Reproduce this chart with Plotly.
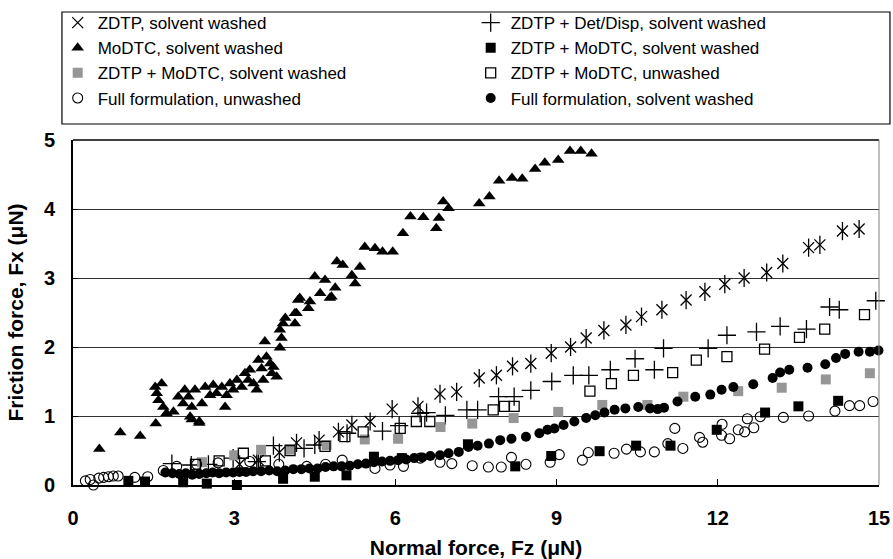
import plotly.graph_objects as go

#--------------------- Data
zdtp_x = [3.1, 3.45, 3.84, 4.16, 4.58, 4.94, 5.19, 5.53, 5.94, 6.42, 6.83, 7.14, 7.56, 7.88, 8.18,
          8.52, 8.9, 9.26, 9.55, 9.88, 10.29, 10.58, 10.96, 11.41, 11.76, 12.13, 12.49, 12.91,
          13.21, 13.69, 13.9, 14.32, 14.63]
zdtp_y = [0.3, 0.36, 0.47, 0.61, 0.65, 0.77, 0.87, 0.92, 1.1, 1.14, 1.32, 1.35, 1.55, 1.59, 1.72,
          1.76, 1.91, 2.0, 2.13, 2.24, 2.32, 2.44, 2.54, 2.68, 2.8, 2.91, 3.0, 3.08,
          3.21, 3.44, 3.48, 3.68, 3.71]

detdisp_x = [1.84, 2.2, 2.52, 2.98, 3.42, 3.73, 4.3, 4.5, 5.1, 5.76, 6.07, 6.46, 6.58, 6.93, 7.33,
             7.53, 7.92, 8.21, 8.52, 8.91, 9.31, 9.6, 10.0, 10.46, 10.82, 10.99, 11.82, 12.17,
             12.72, 13.16, 13.65, 14.08, 14.26, 14.94]
detdisp_y = [0.31, 0.29, 0.3, 0.39, 0.34, 0.57, 0.53, 0.58, 0.75, 0.78, 0.86, 1.04, 1.05, 1.01, 1.09,
             1.09, 1.28, 1.28, 1.37, 1.5, 1.59, 1.59, 1.67, 1.83, 1.67, 1.98, 1.98, 2.17,
             2.22, 2.3, 2.26, 2.58, 2.54, 2.67]

modtc_x = [0.49, 0.88, 1.25, 1.53, 1.54, 1.56, 1.59, 1.65, 1.68, 1.74, 1.87, 1.96, 2.05, 2.08, 2.15,
           2.18, 2.21, 2.21, 2.27, 2.35, 2.35, 2.4, 2.46, 2.55, 2.61, 2.67, 2.77, 2.83, 2.86, 2.92,
           2.98, 3.05, 3.14, 3.2, 3.26, 3.29, 3.36, 3.42, 3.45, 3.51, 3.54, 3.57, 3.6, 3.67, 3.7,
           3.73, 3.79, 3.85, 3.85, 3.88, 3.91, 3.95, 4.13, 4.13, 4.16, 4.19, 4.22, 4.38, 4.41, 4.5,
           4.6, 4.69, 4.78, 4.81, 4.88, 4.91, 5.02, 5.19, 5.25, 5.34, 5.43, 5.62, 5.76, 5.95, 6.14,
           6.28, 6.52, 6.76, 6.81, 6.89, 6.99, 7.56, 7.75, 7.93, 8.17, 8.36, 8.6, 8.78, 9.03, 9.25,
           9.45, 9.65]
modtc_y = [0.52, 0.76, 0.71, 1.42, 0.89, 1.33, 1.23, 1.47, 1.13, 1.04, 1.06, 1.28, 1.18, 1.38, 1.28,
           0.99, 1.13, 0.95, 1.38, 0.92, 0.9, 1.18, 1.42, 1.3, 1.45, 1.33, 1.42, 1.13, 1.3, 1.47,
           1.38, 1.52, 1.42, 1.62, 1.52, 1.67, 1.47, 1.38, 1.81, 1.69, 1.52, 2.08, 1.86, 1.76, 1.62,
           1.71, 1.57, 2.25, 1.99, 2.13, 2.34, 2.42, 2.49, 2.34, 2.49, 2.68, 2.71, 2.56, 2.66, 3.02,
           2.78, 2.97, 2.71, 2.73, 2.86, 3.24, 3.19, 3.04, 2.92, 3.16, 3.45, 3.43, 3.38, 3.38, 3.65,
           3.89, 3.88, 3.72, 3.87, 4.11, 4.01, 4.08, 4.18, 4.41, 4.45, 4.44, 4.58, 4.67, 4.71, 4.84,
           4.84, 4.8]

zm_black_x = [1.03, 1.34, 2.05, 2.49, 3.05, 3.91, 4.5, 5.09, 5.6, 6.12, 7.35, 8.23, 8.9, 9.8,
              10.48, 11.12, 11.98, 12.88, 13.5, 14.24]
zm_black_y = [0.06, 0.05, 0.04, 0.02, 0.0, 0.09, 0.12, 0.14, 0.41, 0.39, 0.59, 0.27, 0.42, 0.49,
              0.57, 0.57, 0.8, 1.05, 1.14, 1.22]

zm_grey_x = [2.4, 3.0, 3.5, 4.04, 4.72, 5.43, 6.05, 6.84, 7.43, 8.2, 9.03, 9.85, 10.69, 11.36,
             12.38, 13.19, 14.01, 14.83]
zm_grey_y = [0.33, 0.43, 0.51, 0.52, 0.58, 0.66, 0.67, 0.84, 0.89, 0.97, 1.06, 1.16, 1.16, 1.28,
             1.36, 1.41, 1.53, 1.62]

zm_unw_x = [2.28, 2.72, 3.17, 3.58, 4.04, 4.69, 5.06, 5.4, 6.09, 6.39, 6.64, 7.82, 8.03, 8.21,
            9.62, 10.02, 10.43, 11.16, 11.6, 12.17, 12.87, 13.52, 13.99, 14.73]
zm_unw_y = [0.3, 0.35, 0.46, 0.35, 0.5, 0.56, 0.7, 0.77, 0.82, 0.92, 0.92, 1.09, 1.14, 1.14,
            1.36, 1.47, 1.59, 1.63, 1.81, 1.86, 1.97, 2.14, 2.26, 2.47]

full_unw_x = [0.23, 0.32, 0.38, 0.48, 0.57, 0.66, 0.75, 0.84, 1.15, 1.39, 1.68, 1.93, 2.3, 2.7,
              3.29, 3.83, 4.35, 4.7, 5.01, 5.62, 5.9, 6.15, 6.46, 6.83, 7.05, 7.43, 7.73, 7.97,
              8.16, 8.43, 8.88, 9.05, 9.48, 9.59, 10.07, 10.3, 10.56, 10.82, 11.07, 11.2, 11.35,
              11.66, 11.72, 12.08, 12.07, 12.22, 12.38, 12.5, 12.55, 12.67, 12.79, 13.22, 13.69,
              14.18, 14.45, 14.64, 14.89]
full_unw_y = [0.06, 0.08, 0.0, 0.1, 0.11, 0.12, 0.13, 0.13, 0.11, 0.12, 0.21, 0.27, 0.3, 0.32,
              0.34, 0.3, 0.27, 0.3, 0.36, 0.24, 0.29, 0.27, 0.39, 0.33, 0.31, 0.28, 0.26, 0.26,
              0.4, 0.3, 0.33, 0.44, 0.36, 0.47, 0.46, 0.52, 0.48, 0.48, 0.6, 0.82, 0.53,
              0.69, 0.62, 0.88, 0.72, 0.67, 0.8, 0.77, 0.96, 0.83, 0.99, 0.98, 1.0,
              1.07, 1.15, 1.15, 1.21]

full_sw_x = [1.72, 1.85, 1.98, 2.1, 2.22, 2.35, 2.48, 2.6, 2.72, 2.85, 2.98, 3.1, 3.22, 3.35, 3.5,
             3.65, 3.8, 3.95, 4.1, 4.25, 4.4, 4.55, 4.7, 4.85, 5.0, 5.15, 5.3, 5.45, 5.6, 5.75,
             5.9, 6.05, 6.2, 6.35, 6.5, 6.65, 6.83, 6.99, 7.18, 7.36, 7.53, 7.74, 7.95, 8.16, 8.43,
             8.68, 8.83, 8.96, 9.13, 9.33, 9.55, 9.72, 9.89, 10.08, 10.28, 10.52, 10.74, 10.88,
             11.0, 11.25, 11.58, 11.86, 12.07, 12.29, 12.66, 13.02, 13.16, 13.33, 13.67, 14.0,
             14.2, 14.37, 14.62, 14.83, 14.99]
full_sw_y = [0.18, 0.17, 0.16, 0.17, 0.15, 0.16, 0.17, 0.18, 0.17, 0.18, 0.18, 0.19, 0.19, 0.2, 0.2,
             0.21, 0.2, 0.21, 0.23, 0.23, 0.24, 0.24, 0.26, 0.27, 0.27, 0.28, 0.3, 0.31, 0.33, 0.34,
             0.35, 0.36, 0.37, 0.39, 0.4, 0.42, 0.43, 0.46, 0.48, 0.55, 0.57, 0.6, 0.65, 0.67, 0.7,
             0.75, 0.8, 0.82, 0.87, 0.92, 0.97, 1.01, 1.05, 1.09, 1.11, 1.13, 1.11, 1.1,
             1.12, 1.21, 1.28, 1.31, 1.38, 1.42, 1.46, 1.55, 1.63, 1.67, 1.7, 1.75,
             1.84, 1.9, 1.93, 1.93, 1.95]

FONT = "Arial, Liberation Sans, sans-serif"

#--------------------- Figure
fig = go.Figure()

def add_series(x, y, name, symbol, size, color="black", line_w=0, show=True, group=None):
    fig.add_trace(go.Scatter(
        x=x, y=y, mode="markers", name=name, showlegend=show,
        legendgroup=group or name, cliponaxis=False,
        marker=dict(symbol=symbol, size=size, color=color,
                    line=dict(color=color if line_w else "rgba(0,0,0,0)", width=line_w)),
    ))

# legend order follows the two-column layout of the original (row by row)
add_series(zdtp_x, zdtp_y, "ZDTP, solvent washed", "x-thin-open", 11, line_w=1.3, group="zdtp")
add_series(zdtp_x, zdtp_y, "ZDTP", "line-ns-open", 13, line_w=1.3, show=False, group="zdtp")
add_series(detdisp_x, detdisp_y, "ZDTP + Det/Disp, solvent washed", "cross-thin-open", 13, line_w=1.3)
add_series(modtc_x, modtc_y, "MoDTC, solvent washed", "triangle-up", 11)
add_series(zm_black_x, zm_black_y, "ZDTP + MoDTC, solvent washed", "square", 10)
add_series(zm_grey_x, zm_grey_y, "ZDTP + MoDTC, solvent washed ", "square", 10, color="#969696")
add_series(zm_unw_x, zm_unw_y, "ZDTP + MoDTC, unwashed", "square-open", 10, line_w=1.3)
add_series(full_unw_x, full_unw_y, "Full formulation, unwashed", "circle-open", 10, line_w=1.1)
add_series(full_sw_x, full_sw_y, "Full formulation, solvent washed", "circle", 10)

fig.update_xaxes(
    range=[0, 15], tickvals=[0, 3, 6, 9, 12, 15], ticks="inside", ticklen=6, tickcolor="black",
    showline=True, linecolor="black", linewidth=2, showgrid=False, zeroline=False,
    automargin=False,
    tickfont=dict(family=FONT, size=20, color="black", weight="bold"), ticklabelstandoff=14,
    title=dict(text="Normal force, Fz (μN)",
               font=dict(family=FONT, size=21, color="black", weight="bold"), standoff=13),
)
fig.update_yaxes(
    range=[0, 5], tickvals=[0, 1, 2, 3, 4, 5], ticks="inside", ticklen=5, tickcolor="black",
    showline=True, linecolor="black", linewidth=2, showgrid=True, gridcolor="#333333",
    gridwidth=1, zeroline=False, automargin=False,
    tickfont=dict(family=FONT, size=20, color="black", weight="bold"), ticklabelstandoff=12,
    title=dict(text="Friction force, Fx (μN)",
               font=dict(family=FONT, size=21, color="black", weight="bold"), standoff=15),
)

# legend frame corners in paper units (frame drawn separately from the legend text)
lx0, lx1, ly0, ly1 = -0.0137, 1.0136, 1.0464, 1.371

fig.update_layout(
    template="none",
    width=893, height=559,
    margin=dict(l=73, r=14, t=140, b=74, autoexpand=False),
    plot_bgcolor="white", paper_bgcolor="white",
    font=dict(family=FONT, color="black"),
    legend=dict(
        orientation="h", x=-0.019, xanchor="left", y=1.391, yanchor="top",
        entrywidth=368, entrywidthmode="pixels",
        bgcolor="rgba(0,0,0,0)", borderwidth=0,
        font=dict(family=FONT, size=17, color="black"), tracegroupgap=0,
        itemsizing="trace",
    ),
    shapes=[
        dict(type="rect", xref="paper", yref="paper", x0=lx0, x1=lx1, y0=ly0, y1=ly1,
             line=dict(color="black", width=1.2), layer="above"),
        dict(type="line", xref="paper", yref="paper", x0=0, x1=1, y0=1, y1=1,
             line=dict(color="black", width=1.5)),
        dict(type="line", xref="paper", yref="paper", x0=1, x1=1, y0=0, y1=1,
             line=dict(color="#808080", width=1)),
    ],
)

# drop the default page margin so the 893x559 figure fills the window exactly
fig.write_html("out.html", config={"displayModeBar": False},
               post_script="document.body.style.margin='0';document.body.style.overflow='hidden';")
